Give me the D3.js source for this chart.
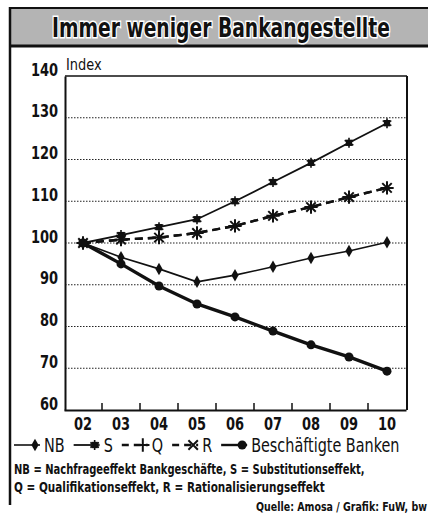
<!DOCTYPE html>
<html>
<head>
<meta charset="utf-8">
<script src="https://cdn.jsdelivr.net/npm/d3@7"></script>
<style>
  body { margin: 0; background: #fff; }
  svg { display: block; }
  text { font-family: "Liberation Sans Narrow", "DejaVu Sans Condensed", sans-serif; fill: #111; }
</style>
</head>
<body>
<div id="chart"></div>
<script>
// data
var years = ["02", "03", "04", "05", "06", "07", "08", "09", "10"];
var nb    = [100, 96.6, 93.8, 90.7, 92.3, 94.3, 96.4, 98.1, 100.2];
var s     = [100, 101.9, 103.8, 105.7, 110, 114.6, 119.2, 124, 128.7];
var q     = [100, 100.8, 101.3, 102.4, 104.1, 106.5, 108.6, 111, 113.2];
var r     = [100, 100.8, 101.3, 102.4, 104.1, 106.5, 108.6, 111, 113.2];
var banken = [100, 95, 89.7, 85.4, 82.3, 78.9, 75.6, 72.7, 69.3];
var yTicks = [60, 70, 80, 90, 100, 110, 120, 130, 140];
var gridVals = [70, 80, 90, 100, 110, 120, 130];

var width = 428, height = 515;
var plot = {left: 65, right: 407, top: 76, bottom: 410};

var svg = d3.select("#chart").append("svg")
    .attr("width", width)
    .attr("height", height);

// squeeze a text horizontally (the original uses a condensed face)
function squeeze(t, f) {
  var w = t.node().getComputedTextLength();
  var tx = +t.attr("x") || 0, ty = +t.attr("y") || 0;
  t.attr("x", 0).attr("y", 0)
   .attr("transform", "translate(" + tx + "," + ty + ") scale(" + f + ",1)");
  return w * f;
}
function squeezeTo(t, target) {
  return squeeze(t, target / t.node().getComputedTextLength());
}

// title banner
svg.append("rect")
    .attr("x", 10).attr("y", 8)
    .attr("width", 420).attr("height", 38)
    .attr("fill", "#b4b4b4");
svg.append("line").attr("x1", 10).attr("x2", 428).attr("y1", 8).attr("y2", 8)
    .attr("stroke", "#111").attr("stroke-width", 2);
svg.append("line").attr("x1", 10).attr("x2", 428).attr("y1", 46).attr("y2", 46)
    .attr("stroke", "#111").attr("stroke-width", 3);
svg.append("line").attr("x1", 10).attr("x2", 10).attr("y1", 7).attr("y2", 505)
    .attr("stroke", "#111").attr("stroke-width", 2.5);

var title = svg.append("text")
    .attr("x", 52).attr("y", 37)
    .attr("font-size", "27px")
    .attr("font-weight", "bold")
    .style("stroke", "#fff").style("stroke-width", 3).style("paint-order", "stroke")
    .text("Immer weniger Bankangestellte");
squeezeTo(title, 338);

// scales
var x = d3.scaleBand().domain(years).range([plot.left - 1, plot.right - 1]);
var y = d3.scaleLinear().domain([60, 140]).range([plot.bottom, plot.top]);
var cx = function(i) { return x(years[i]) + x.bandwidth() / 2; };

// grid
svg.append("g").selectAll("line")
  .data(gridVals)
  .join("line")
    .attr("x1", plot.left).attr("x2", plot.right)
    .attr("y1", function(d) { return y(d); })
    .attr("y2", function(d) { return y(d); })
    .attr("stroke", "#222")
    .attr("stroke-width", 1.2)
    .attr("stroke-dasharray", "1.5,1.5");

// frame
svg.append("line").attr("x1", plot.left).attr("x2", plot.right).attr("y1", plot.top).attr("y2", plot.top)
    .attr("stroke", "#111").attr("stroke-width", 1.5);
svg.append("line").attr("x1", plot.right).attr("x2", plot.right).attr("y1", plot.top).attr("y2", plot.bottom)
    .attr("stroke", "#111").attr("stroke-width", 2);

// y axis
var yAxis = svg.append("g")
    .attr("transform", "translate(" + plot.left + ",0)")
    .call(d3.axisLeft(y).tickValues(yTicks).tickSize(0).tickPadding(7));
yAxis.select(".domain").attr("stroke", "#111").attr("stroke-width", 2);
yAxis.selectAll("text")
    .attr("font-size", "17px")
    .attr("font-weight", "bold")
    .attr("dy", "-0.05em")
    .each(function() { squeeze(d3.select(this), 0.85); });

var idx = svg.append("text")
    .attr("x", plot.left + 1).attr("y", 70)
    .attr("font-size", "16px")
    .text("Index");
squeeze(idx, 0.9);

// x axis, ticks at the band boundaries pointing up
var xAxis = svg.append("g")
    .attr("transform", "translate(0," + plot.bottom + ")")
    .call(d3.axisBottom(x).tickSize(0).tickPadding(8));
xAxis.select(".domain").attr("stroke", "#111").attr("stroke-width", 2);
xAxis.selectAll("text")
    .attr("font-size", "17px")
    .attr("font-weight", "bold")
    .each(function() { squeeze(d3.select(this), 0.85); });
svg.append("g").selectAll("line")
  .data(years.slice(1))
  .join("line")
    .attr("x1", function(d) { return x(d); })
    .attr("x2", function(d) { return x(d); })
    .attr("y1", plot.bottom)
    .attr("y2", plot.bottom - 7)
    .attr("stroke", "#111")
    .attr("stroke-width", 1.5);

// series
var series = [
  {name: "Q", values: q, width: 2.4, dash: "8,5", marker: "plus"},
  {name: "R", values: r, width: 2.4, dash: "8,5", marker: "cross"},
  {name: "S", values: s, width: 1.8, dash: null, marker: "star"},
  {name: "NB", values: nb, width: 1.6, dash: null, marker: "diamond"},
  {name: "Beschäftigte Banken", values: banken, width: 3.4, dash: null, marker: "circle"}
];

var line = d3.line()
    .x(function(d, i) { return cx(i); })
    .y(function(d) { return y(d); });

function drawMarker(g, kind, px, py) {
  var tr = "translate(" + px + "," + py + ")";
  if (kind == "circle") {
    g.append("circle").attr("cx", px).attr("cy", py).attr("r", 4.5).attr("fill", "#111");
  } else if (kind == "diamond") {
    g.append("path").attr("transform", tr)
      .attr("d", d3.symbol(d3.symbolDiamond, 45)()).attr("fill", "#111");
  } else if (kind == "star") {
    g.append("path").attr("transform", tr)
      .attr("d", d3.symbol(d3.symbolSquare, 40)()).attr("fill", "#111");
    g.append("path").attr("transform", tr)
      .attr("d", d3.symbol(d3.symbolAsterisk, 70)()).attr("stroke", "#111").attr("stroke-width", 1.6).attr("fill", "none");
  } else if (kind == "plus") {
    g.append("path").attr("transform", tr)
      .attr("d", d3.symbol(d3.symbolPlus, 60)()).attr("stroke", "#111").attr("stroke-width", 2).attr("fill", "none");
  } else if (kind == "cross") {
    g.append("path").attr("transform", tr)
      .attr("d", d3.symbol(d3.symbolTimes, 60)()).attr("stroke", "#111").attr("stroke-width", 2).attr("fill", "none");
  }
}

series.forEach(function(sr) {
  var g = svg.append("g");
  g.append("path")
    .datum(sr.values)
    .attr("fill", "none")
    .attr("stroke", "#111")
    .attr("stroke-width", sr.width)
    .attr("stroke-dasharray", sr.dash)
    .attr("d", line);
  sr.values.forEach(function(v, i) {
    drawMarker(g, sr.marker, cx(i), y(v));
  });
});

// legend
var legendOrder = ["NB", "S", "Q", "R", "Beschäftigte Banken"];
var lx = 14, ly = 445;
legendOrder.forEach(function(name) {
  var sr = series.find(function(d) { return d.name == name; });
  var g = svg.append("g");
  g.append("line")
    .attr("x1", lx).attr("x2", lx + 26)
    .attr("y1", ly).attr("y2", ly)
    .attr("stroke", "#111")
    .attr("stroke-width", Math.min(sr.width, 2.4))
    .attr("stroke-dasharray", sr.dash ? "7,5" : null);
  drawMarker(g, sr.marker, lx + 21, ly);
  var t = g.append("text")
    .attr("x", lx + 30).attr("y", ly + 7)
    .attr("font-size", "20px")
    .text(sr.name);
  lx = lx + 30 + squeeze(t, 0.8) + 9;
});

// footnotes
var f1 = svg.append("text").attr("x", 14).attr("y", 474).attr("font-size", "14px")
    .attr("font-weight", "bold")
    .text("NB = Nachfrageeffekt Bankgeschäfte, S = Substitutionseffekt,");
squeezeTo(f1, 351);
var f2 = svg.append("text").attr("x", 14).attr("y", 492).attr("font-size", "14px")
    .attr("font-weight", "bold")
    .text("Q = Qualifikationseffekt, R = Rationalisierungseffekt");
squeezeTo(f2, 311);
var f3 = svg.append("text").attr("x", 256).attr("y", 511).attr("font-size", "13px")
    .attr("font-weight", "bold")
    .text("Quelle: Amosa / Grafik: FuW, bw");
squeezeTo(f3, 171);
</script>
</body>
</html>
